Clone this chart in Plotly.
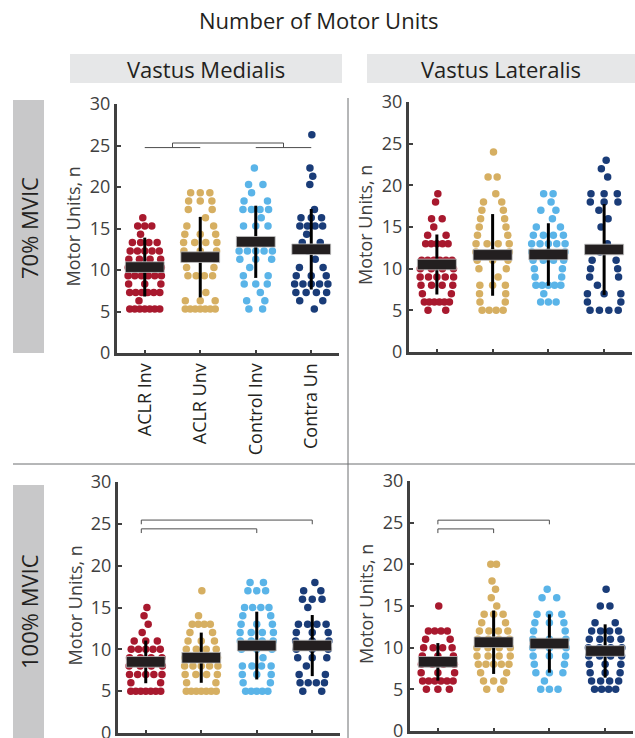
import numpy as np
import plotly.graph_objects as go

W, H = 635, 738

# ---------------- data ----------------
groups = ["ACLR Inv", "ACLR Unv", "Control Inv", "Contra Un"]
colors = ["#A8192E", "#D6AF62", "#5AB4E8", "#1A3C78"]

# Vastus Medialis, 70% MVIC
vm70_aclr_inv = [16.3, 15.3, 15.3, 15.3, 14.3, 13.3, 13.3, 13.3, 13.3,
                 12.3, 12.3, 12.3, 12.3, 12.3, 11.3, 11.3, 11.3, 11.3,
                 10.3, 10.3, 10.3, 10.3, 9.3, 9.3, 9.3, 9.3, 9.3, 9.3,
                 8.3, 8.3, 8.3, 7.3, 7.3, 7.3, 7.3, 7.3, 7.3, 6.3,
                 5.3, 5.3, 5.3, 5.3, 5.3, 5.3, 5.3]
vm70_aclr_unv = [19.3, 19.3, 19.3, 18.3, 18.3, 18.3, 17.3, 17.3, 16.3,
                 15.3, 15.3, 14.3, 14.3, 14.3, 13.3, 13.3, 13.3, 13.3,
                 12.3, 12.3, 12.3, 11.3, 11.3, 10.3, 10.3, 9.3, 9.3, 9.3, 9.3,
                 7.3, 6.3, 6.3, 6.3, 5.3, 5.3, 5.3, 5.3, 5.3, 5.3, 5.3]
vm70_control_inv = [22.3, 20.3, 20.3, 19.3, 18.3, 18.3, 17.3, 17.3, 17.3, 17.3,
                    16.3, 15.3, 15.3, 15.3, 13.3, 13.3, 13.3,
                    12.3, 12.3, 12.3, 12.3, 12.3, 11.3, 11.3, 11.3, 10.3,
                    9.3, 9.3, 8.3, 8.3, 8.3, 7.3, 6.3, 6.3, 5.3, 5.3]
vm70_contra_un = [26.3, 22.3, 21.3, 20.3, 17.3, 16.3, 16.3, 16.3,
                  15.3, 15.3, 15.3, 15.3, 14.3, 13.3, 13.3, 12.3, 11.3,
                  10.3, 10.3, 9.3, 9.3, 9.3, 8.3, 8.3, 8.3, 8.3, 8.3,
                  7.3, 7.3, 7.3, 7.3, 6.3, 6.3, 5.3]

# Vastus Lateralis, 70% MVIC
vl70_aclr_inv = [19, 18, 16, 16, 15, 14, 14, 13, 13, 13, 13, 13,
                 11, 11, 11, 11, 11, 11, 10, 10, 10, 10, 9, 9, 9, 9, 9,
                 8, 8, 8, 8, 7, 7, 6, 6, 6, 6, 6, 6, 5, 5]
vl70_aclr_unv = [24, 21, 21, 19, 18, 18, 17, 17, 16, 16, 15, 15, 14, 14,
                 13, 13, 13, 13, 12, 12, 12, 11, 11, 11, 10, 10, 9,
                 8, 8, 8, 7, 7, 6, 6, 5, 5, 5, 5]
vl70_control_inv = [19, 19, 18, 17, 17, 16, 15, 15, 14, 14, 14, 14,
                    13, 13, 13, 13, 13, 12, 12, 12, 11, 11, 11, 11, 10, 10,
                    9, 9, 8, 8, 8, 8, 8, 7, 6, 6, 6]
vl70_contra_un = [23, 22, 21, 19, 19, 19, 18, 18, 18, 17, 16, 15, 13, 12,
                  11, 11, 10, 10, 9, 9, 8, 7, 7, 7, 6, 6, 5, 5, 5, 5]

# Vastus Medialis, 100% MVIC
vm100_aclr_inv = [15, 14, 13, 12, 11, 11, 11, 10, 10, 10, 10, 10,
                  9, 9, 9, 9, 8, 8, 8, 8, 7, 7, 7, 7, 7, 6, 6,
                  5, 5, 5, 5, 5, 5, 5]
vm100_aclr_unv = [17, 14, 13, 13, 13, 13, 12, 12, 11, 11, 11, 10, 10, 10, 10,
                  9, 9, 9, 9, 8, 8, 8, 8, 8, 7, 7, 7, 7, 6, 6,
                  5, 5, 5, 5, 5, 5, 5]
vm100_control_inv = [18, 18, 17, 17, 17, 15, 15, 15, 15, 14, 14, 13, 13, 13,
                     12, 12, 12, 12, 11, 11, 11, 11, 10, 10, 10, 9,
                     8, 8, 8, 8, 7, 7, 7, 6, 6, 5, 5, 5, 5, 5]
vm100_contra_un = [18, 17, 17, 16, 16, 16, 15, 13, 13, 13, 13, 12, 12, 12,
                   11, 11, 11, 10, 10, 10, 9, 9, 9, 8, 7, 7,
                   6, 6, 6, 6, 5, 5]

# Vastus Lateralis, 100% MVIC
vl100_aclr_inv = [15, 12, 12, 12, 12, 11, 11, 10, 10, 10, 10, 9, 9, 9,
                  8, 8, 8, 8, 7, 7, 7, 6, 6, 6, 6, 6, 6, 5, 5, 5]
vl100_aclr_unv = [20, 20, 18, 17, 16, 15, 14, 14, 14, 13, 13, 12, 12, 12, 12,
                  11, 11, 11, 11, 10, 10, 10, 10, 9, 9, 9, 9,
                  8, 8, 8, 8, 8, 7, 7, 6, 6, 6, 5, 5]
vl100_control_inv = [17, 16, 16, 14, 14, 14, 13, 13, 13, 12, 12, 11, 11, 11,
                     10, 10, 10, 9, 9, 9, 8, 8, 7, 7, 7, 6, 5, 5, 5]
vl100_contra_un = [17, 15, 15, 13, 13, 12, 12, 12, 12, 11, 11, 11, 11,
                   10, 10, 10, 10, 9, 9, 9, 9, 8, 8, 8, 7, 7, 7,
                   6, 6, 6, 6, 5, 5, 5, 5]

# group means and standard deviations
vm70_mean = [10.35, 11.55, 13.4, 12.5]
vm70_sd = [3.55, 4.85, 4.35, 4.85]
vl70_mean = [10.5, 11.65, 11.7, 12.3]
vl70_sd = [3.6, 4.9, 3.75, 5.45]
vm100_mean = [8.5, 9.0, 10.45, 10.45]
vm100_sd = [2.55, 3.0, 4.05, 3.65]
vl100_mean = [8.3, 10.65, 10.5, 9.6]
vl100_sd = [2.25, 3.8, 3.5, 3.2]

# significance brackets: (from group, to group, height)
vm70_pairs_low = [(1, 2, 24.75), (3, 4, 24.75)]
vm70_pair_high = (1.5, 3.5, 25.3)
vm100_brackets = [(0.92, 3, 24.4), (0.92, 4, 25.45)]
vl100_brackets = [(1, 2, 24.25), (1, 3, 25.3)]

y_ticks = [0, 5, 10, 15, 20, 25, 30]

# ---------------- layout helpers ----------------
FONT = "Open Sans"
AX_COL = "#404040"
TXT_COL = "#231F20"


def px_x(v):
    return v / W


def px_y(v):
    return 1 - v / H


def swarm_offsets(vals):
    vals = np.asarray(vals, dtype=float)
    uniq, counts = np.unique(vals, return_counts=True)
    dens = np.array([np.sum(counts * np.exp(-0.5 * ((u - uniq) / 1.6) ** 2)) for u in uniq])
    dens = dens / dens.max()
    xs, ys = [], []
    for i, (u, k) in enumerate(zip(uniq, counts)):
        half = 0.30 * dens[i]
        half = max(half, (k - 1) * 0.045)
        half = min(half, 0.33)
        if k == 1:
            offs = [0.13 * dens[i] * (1 if i % 2 == 0 else -1)]
        else:
            offs = list(np.linspace(-half, half, k))
        for o in offs:
            xs.append(o)
            ys.append(u)
    return np.array(xs), np.array(ys)


panels = [
    dict(name="vm70", data=[vm70_aclr_inv, vm70_aclr_unv, vm70_control_inv, vm70_contra_un],
         mean=vm70_mean, sd=vm70_sd, xpx=(117, 339), ypx=(353, 104), labels=True),
    dict(name="vl70", data=[vl70_aclr_inv, vl70_aclr_unv, vl70_control_inv, vl70_contra_un],
         mean=vl70_mean, sd=vl70_sd, xpx=(409, 632), ypx=(352, 102), labels=False),
    dict(name="vm100", data=[vm100_aclr_inv, vm100_aclr_unv, vm100_control_inv, vm100_contra_un],
         mean=vm100_mean, sd=vm100_sd, xpx=(118, 340), ypx=(733, 482), labels=False),
    dict(name="vl100", data=[vl100_aclr_inv, vl100_aclr_unv, vl100_control_inv, vl100_contra_un],
         mean=vl100_mean, sd=vl100_sd, xpx=(410, 633), ypx=(731, 481), labels=False),
]

fig = go.Figure()
shapes = []
annotations = []

BOX_HW = 0.35
BOX_HH = 0.64

for pi, p in enumerate(panels):
    xa = "x" if pi == 0 else f"x{pi + 1}"
    ya = "y" if pi == 0 else f"y{pi + 1}"
    cats = [1, 2, 3, 4]
    for gi, vals in enumerate(p["data"]):
        ox, yv = swarm_offsets(vals)
        fig.add_trace(go.Scatter(
            x=cats[gi] + ox, y=yv, mode="markers", xaxis=xa, yaxis=ya,
            marker=dict(color=colors[gi], size=7.5, line=dict(width=0)),
            showlegend=False, hoverinfo="skip"))
    for gi in range(4):
        m, s = p["mean"][gi], p["sd"][gi]
        c = cats[gi]
        fig.add_trace(go.Scatter(
            x=[c, c], y=[m - s, m + s], mode="lines", xaxis=xa, yaxis=ya,
            line=dict(color="#000000", width=3), showlegend=False, hoverinfo="skip"))
        fig.add_trace(go.Scatter(
            x=[c - BOX_HW, c + BOX_HW, c + BOX_HW, c - BOX_HW, c - BOX_HW],
            y=[m - BOX_HH, m - BOX_HH, m + BOX_HH, m + BOX_HH, m - BOX_HH],
            mode="lines", fill="toself", fillcolor="#231F20", xaxis=xa, yaxis=ya,
            line=dict(color="#C4C4C4", width=0.8), showlegend=False, hoverinfo="skip"))

    x0, x1 = p["xpx"]
    yb, yt = p["ypx"]
    axis_common = dict(showline=True, linecolor=AX_COL, linewidth=3, showgrid=False,
                       zeroline=False, ticks="inside", tickcolor=AX_COL, tickwidth=2,
                       fixedrange=True, automargin=False, ticklabeloverflow="allow")
    fig.layout[("xaxis" if pi == 0 else f"xaxis{pi + 1}")] = dict(
        domain=[px_x(x0), px_x(x1)], range=[0.5, 4.5], anchor=ya,
        tickvals=cats, ticktext=groups, ticklen=3, tickangle=-90,
        showticklabels=p["labels"],
        tickfont=dict(family=FONT, size=18, color=TXT_COL), **axis_common)
    fig.layout[("yaxis" if pi == 0 else f"yaxis{pi + 1}")] = dict(
        domain=[px_y(yb), px_y(yt)], range=[0, 30], anchor=xa,
        tickvals=y_ticks, ticktext=[str(t) for t in y_ticks], ticklen=4,
        tickfont=dict(family=FONT, size=18, color=AX_COL), **axis_common)

    # y-axis title
    annotations.append(dict(text="Motor Units, n", xref="paper", yref="paper",
                            x=px_x(x0 - 44), y=px_y((yb + yt) / 2 - 2), showarrow=False,
                            textangle=-90, xanchor="center", yanchor="middle",
                            font=dict(family=FONT, size=18, color=AX_COL)))


# brackets
def hline(xa, ya, xs, xe, y):
    shapes.append(dict(type="line", xref=xa, yref=ya, x0=xs, x1=xe, y0=y, y1=y,
                       line=dict(color="#4D4D4D", width=1)))


def vline(xa, ya, x, ys, ye):
    shapes.append(dict(type="line", xref=xa, yref=ya, x0=x, x1=x, y0=ys, y1=ye,
                       line=dict(color="#4D4D4D", width=1)))


for (a, b, h) in vm70_pairs_low:
    hline("x", "y", a, b, h)
a, b, h = vm70_pair_high
hline("x", "y", a, b, h)
vline("x", "y", a, h, vm70_pairs_low[0][2])
vline("x", "y", b, h, vm70_pairs_low[1][2])

for (xa, ya, br) in [("x3", "y3", vm100_brackets), ("x4", "y4", vl100_brackets)]:
    for (a, b, h) in br:
        hline(xa, ya, a, b, h)
        vline(xa, ya, a, h, h - 0.5)
        vline(xa, ya, b, h, h - 0.5)

# header boxes
for (xl, xr, label) in [(70, 342, "Vastus Medialis"), (367, 635, "Vastus Lateralis")]:
    shapes.append(dict(type="rect", xref="paper", yref="paper", x0=px_x(xl), x1=px_x(xr),
                       y0=px_y(83), y1=px_y(54), fillcolor="#E6E7E8", line=dict(width=0),
                       layer="below"))
    annotations.append(dict(text=label, xref="paper", yref="paper", x=px_x((xl + xr) / 2),
                            y=px_y(68.5), showarrow=False, xanchor="center", yanchor="middle",
                            font=dict(family=FONT, size=22, color=TXT_COL)))

# row label boxes
for (yt_, yb_, label, yc) in [(100, 353, "70% MVIC", 228), (485, 738, "100% MVIC", 612)]:
    shapes.append(dict(type="rect", xref="paper", yref="paper", x0=px_x(13), x1=px_x(44),
                       y0=px_y(yb_), y1=px_y(yt_), fillcolor="#C8C8C9", line=dict(width=0),
                       layer="below"))
    annotations.append(dict(text=label, xref="paper", yref="paper", x=px_x(29),
                            y=px_y(yc), showarrow=False, textangle=-90,
                            xanchor="center", yanchor="middle",
                            font=dict(family=FONT, size=22, color=TXT_COL)))

# dividers
shapes.append(dict(type="line", xref="paper", yref="paper", x0=px_x(348), x1=px_x(348),
                   y0=px_y(738), y1=px_y(98), line=dict(color="#6D6E71", width=1)))
shapes.append(dict(type="line", xref="paper", yref="paper", x0=px_x(13), x1=px_x(635),
                   y0=px_y(464), y1=px_y(464), line=dict(color="#6D6E71", width=1)))

# main title
annotations.append(dict(text="Number of Motor Units", xref="paper", yref="paper",
                        x=px_x(319), y=px_y(20), showarrow=False, xanchor="center",
                        yanchor="middle", font=dict(family=FONT, size=22, color=TXT_COL)))

fig.update_layout(width=W, height=H, margin=dict(l=0, r=0, t=0, b=0, autoexpand=False),
                  paper_bgcolor="white", plot_bgcolor="white",
                  shapes=shapes, annotations=annotations, showlegend=False)

fig.write_html("out.html", config={"displayModeBar": False})
